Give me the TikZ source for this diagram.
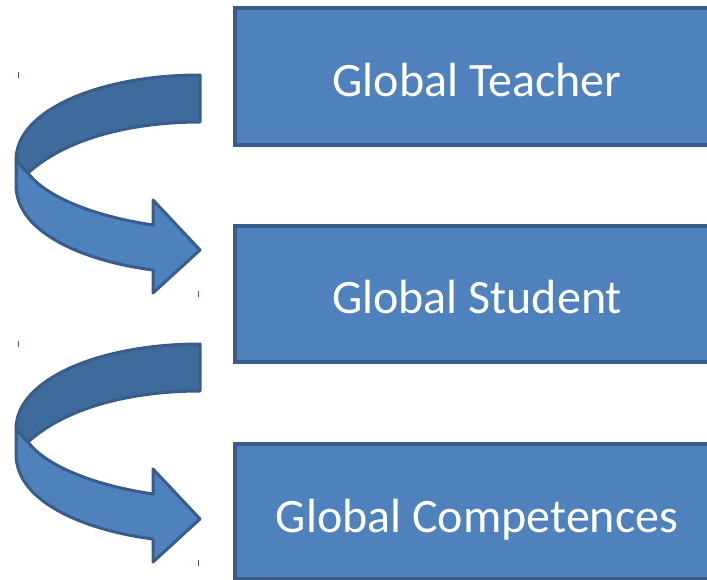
\documentclass[tikz,border=0pt]{standalone}
\usepackage{fontspec}
\setmainfont{Carlito}
\definecolor{boxfill}{HTML}{4F81BD}
\definecolor{boxline}{HTML}{385D8A}
\definecolor{darkband}{HTML}{3F6A9C}
\tikzset{
  stagebox/.style={draw=boxline, line width=3.6pt, fill=boxfill},
  stagetext/.style={text=white, font=\fontsize{48}{54}\selectfont, anchor=base, inner sep=0pt},
  bandline/.style={draw=boxline, line width=3pt, line join=round},
  tickmark/.style={draw=boxline, line width=1pt}
}
\begin{document}
\begin{tikzpicture}[x=1pt,y=-1pt]
\useasboundingbox (0,0) rectangle (707,580);
\begin{scope}
\clip (0,0) rectangle (707,580);
% boxes
\path[stagebox] (235,8) rectangle (720,145);
\path[stagebox] (235,226) rectangle (720,362);
\path[stagebox] (235,444) rectangle (720,579);
\node[stagetext] (t1) at (477,97) {Global Teacher};
\node[stagetext] (t2) at (477,313) {Global Student};
\node[stagetext] (t3) at (477,532) {Global Competences};
\end{scope}
% curved arrows
\foreach \dy in {0, 269}{
\begin{scope}[yshift=-\dy pt]
  % lower (light) band with head
  \path[bandline, fill=boxfill]
    (16,160) -- (16,185) .. controls (16,235) and (90,262) .. (153,270)
    -- (153,293) -- (200,250) -- (153,200) -- (153,225)
    .. controls (92,216) and (45,196) .. (28,173) -- cycle;
  % upper (dark) band
  \path[bandline, fill=darkband]
    (200,75) .. controls (100,75) and (16,110) .. (16,160)
    -- (28,173) .. controls (70,135) and (140,122) .. (200,122) -- cycle;
  \draw[tickmark] (18,72) -- (18,78);
  \draw[tickmark] (198,291) -- (198,297);
\end{scope}
}
\end{tikzpicture}
\end{document}
